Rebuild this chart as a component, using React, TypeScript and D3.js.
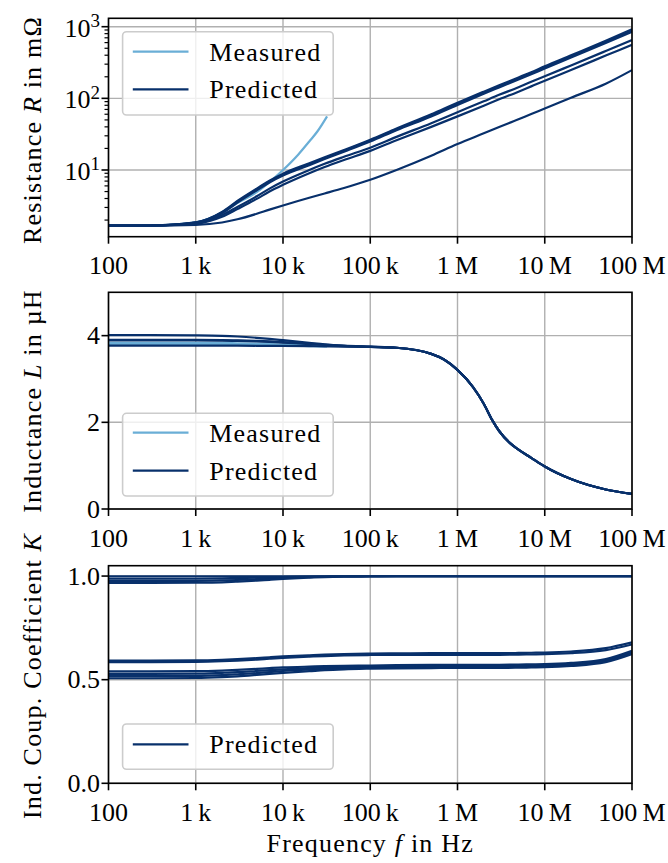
import { useEffect, useRef } from 'react';
import * as d3 from 'd3';

// frequency grid (Hz) for R and K curves
const freq = [1e2, 3e2, 1e3, 2e3, 3e3, 5e3, 7e3, 1e4, 2e4, 3e4, 5e4, 1e5, 2e5, 5e5, 1e6, 2e6, 3e6, 5e6, 7e6, 1e7, 2e7, 5e7, 1e8];
// denser grid for the inductance roll-off
const freqL = [1e2, 3e2, 1e3, 2e3, 3e3, 5e3, 7e3, 1e4, 2e4, 3e4, 5e4, 1e5, 2e5, 5e5, 7e5, 1e6, 1.5e6, 2e6, 2.5e6, 3e6, 4e6, 5e6, 7e6, 1e7, 2e7, 5e7, 1e8];
// measurement only reaches ~30 kHz
const freqMeas = [1e2, 3e2, 1e3, 2e3, 3e3, 5e3, 7e3, 1e4, 1.5e4, 2e4, 2.5e4, 3.2e4];

// Resistance in mOhm
const rPred = [
  [1.67, 1.68, 1.86, 2.6, 3.7, 5.5, 7.1, 8.9, 12.4, 15.0, 19.0, 26.5, 38, 60, 87, 124, 152, 196, 232, 280, 398, 635, 918],
  [1.67, 1.68, 1.85, 2.55, 3.6, 5.35, 6.9, 8.6, 12.0, 14.6, 18.5, 25.8, 37, 58, 84, 120, 147, 189, 224, 270, 384, 612, 880],
  [1.67, 1.68, 1.84, 2.5, 3.5, 5.2, 6.7, 8.35, 11.7, 14.2, 18.0, 25.0, 36, 56, 81, 116, 142, 183, 217, 261, 371, 592, 851],
  [1.67, 1.68, 1.80, 2.35, 3.05, 4.3, 5.5, 6.9, 10.0, 12.2, 15.3, 20.5, 29, 45, 64, 91, 112, 143, 170, 203, 288, 458, 651],
  [1.67, 1.68, 1.78, 2.22, 2.85, 3.95, 5.0, 6.2, 9.0, 11.0, 13.8, 18.5, 26, 40, 56, 79, 97, 124, 147, 176, 249, 395, 560],
  [1.67, 1.67, 1.71, 1.85, 2.05, 2.45, 2.8, 3.2, 4.1, 4.7, 5.6, 7.3, 10, 15.8, 23, 32.5, 39.8, 51, 60.5, 72, 102, 160, 248],
];
const rMeas = [
  [1.67, 1.68, 1.86, 2.55, 3.45, 4.9, 6.8, 10.0, 16.5, 25, 35, 56],
];

// Inductance in uH (low-frequency part per winding, common roll-off above 100 kHz)
const lHead = [
  [4.01, 4.01, 4.005, 3.995, 3.98, 3.95, 3.925, 3.895, 3.835, 3.80, 3.77, 3.745],
  [3.905, 3.905, 3.903, 3.898, 3.892, 3.88, 3.868, 3.852, 3.815, 3.79, 3.765, 3.743],
  [3.89, 3.89, 3.888, 3.883, 3.877, 3.866, 3.855, 3.84, 3.805, 3.785, 3.76, 3.742],
  [3.77, 3.77, 3.77, 3.769, 3.768, 3.766, 3.764, 3.762, 3.757, 3.753, 3.748, 3.742],
];
const lTail = [3.72, 3.58, 3.45, 3.21, 2.82, 2.43, 2.05, 1.80, 1.52, 1.37, 1.18, 0.98, 0.69, 0.45, 0.35];
const lMeas = [
  [3.835, 3.835, 3.833, 3.83, 3.825, 3.815, 3.805, 3.795, 3.785, 3.775, 3.768, 3.762],
  [3.795, 3.795, 3.794, 3.79, 3.787, 3.78, 3.775, 3.77, 3.763, 3.758, 3.754, 3.75],
];

// inductive coupling coefficient
const kPred = [
  [0.999, 0.999, 0.999, 0.999, 0.999, 0.999, 0.999, 0.999, 0.999, 0.999, 0.999, 0.999, 0.999, 0.999, 0.999, 0.999, 0.999, 0.999, 0.999, 0.999, 0.999, 0.999, 0.999],
  [0.988, 0.988, 0.988, 0.989, 0.990, 0.992, 0.994, 0.995, 0.997, 0.998, 0.999, 0.999, 0.999, 0.999, 0.999, 0.999, 0.999, 0.999, 0.999, 0.999, 0.999, 0.999, 0.999],
  [0.977, 0.977, 0.977, 0.979, 0.981, 0.985, 0.988, 0.991, 0.995, 0.997, 0.998, 0.999, 0.999, 0.999, 0.999, 0.999, 0.999, 0.999, 0.999, 0.999, 0.999, 0.999, 0.999],
  [0.967, 0.967, 0.968, 0.970, 0.973, 0.978, 0.982, 0.986, 0.992, 0.995, 0.997, 0.998, 0.999, 0.999, 0.999, 0.999, 0.999, 0.999, 0.999, 0.999, 0.999, 0.999, 0.999],
  [0.592, 0.592, 0.593, 0.596, 0.599, 0.604, 0.608, 0.612, 0.618, 0.621, 0.624, 0.626, 0.627, 0.628, 0.628, 0.628, 0.628, 0.629, 0.630, 0.631, 0.636, 0.652, 0.680],
  [0.585, 0.585, 0.586, 0.589, 0.592, 0.597, 0.601, 0.605, 0.611, 0.614, 0.617, 0.619, 0.620, 0.620, 0.620, 0.620, 0.620, 0.621, 0.622, 0.623, 0.628, 0.643, 0.670],
  [0.540, 0.540, 0.541, 0.544, 0.547, 0.552, 0.556, 0.559, 0.563, 0.565, 0.567, 0.568, 0.570, 0.571, 0.572, 0.572, 0.572, 0.573, 0.574, 0.575, 0.581, 0.600, 0.640],
  [0.528, 0.528, 0.529, 0.533, 0.536, 0.542, 0.546, 0.550, 0.556, 0.559, 0.561, 0.563, 0.565, 0.566, 0.567, 0.567, 0.567, 0.568, 0.569, 0.570, 0.576, 0.594, 0.634],
  [0.517, 0.517, 0.518, 0.522, 0.526, 0.532, 0.537, 0.542, 0.549, 0.553, 0.556, 0.558, 0.560, 0.561, 0.562, 0.562, 0.562, 0.563, 0.564, 0.565, 0.571, 0.589, 0.628],
  [0.507, 0.507, 0.508, 0.512, 0.516, 0.523, 0.528, 0.533, 0.541, 0.546, 0.550, 0.553, 0.555, 0.556, 0.557, 0.557, 0.557, 0.558, 0.559, 0.560, 0.566, 0.584, 0.623],
];

const xTicks = [1e2, 1e3, 1e4, 1e5, 1e6, 1e7, 1e8];
const xTickLabels = ['100', '1\u2009k', '10\u2009k', '100\u2009k', '1\u2009M', '10\u2009M', '100\u2009M'];
const rTicks = [10, 100, 1000];
const rTickExp = ['1', '2', '3'];
const rMinor = [2, 3, 4, 5, 6, 7, 8, 9, 20, 30, 40, 50, 60, 70, 80, 90, 200, 300, 400, 500, 600, 700, 800, 900];
const lTicks = [0, 2, 4];
const kTicks = [0, 0.5, 1.0];

const MEAS = '#6aaed6';
const PRED = '#08306b';
const GRID = '#b0b0b0';
const FONT = "'Liberation Serif', 'DejaVu Serif', serif";
const FS = 26;
const WORD_SPACING = '1.2px';

export default function App() {
  const svgRef = useRef<SVGSVGElement>(null);

  useEffect(() => {
    const el = svgRef.current;
    if (!el) return;
    const svg = d3.select(el);
    svg.selectAll('*').remove();

    const left = 108.5, right = 632;
    const x = d3.scaleLog().domain([1e2, 1e8]).range([left, right]);

    const panels = [
      {
        id: 'r', top: 18.3, bottom: 236.7,
        y: d3.scaleLog().domain([1.172, 1310]),
        pred: rPred.map(v => v.map((d, i) => [freq[i], d])),
        meas: rMeas.map(v => v.map((d, i) => [freqMeas[i], d])),
        legend: { top: 31.7, bottom: 115, rows: [[51.7, 'Measured', MEAS], [89.3, 'Predicted', PRED]] },
        label: ['Resistance ', 'R', ' in m\u03A9'], labelY: 130,
      },
      {
        id: 'l', top: 292.3, bottom: 509,
        y: d3.scaleLinear().domain([0, 5]),
        pred: lHead.map(v => v.concat(lTail).map((d, i) => [freqL[i], d])),
        meas: lMeas.map(v => v.map((d, i) => [freqMeas[i], d])),
        legend: { top: 413.3, bottom: 496, rows: [[432.7, 'Measured', MEAS], [470.7, 'Predicted', PRED]] },
        label: ['Inductance ', 'L', ' in \u00B5H'], labelY: 401,
      },
      {
        id: 'k', top: 565.7, bottom: 783.3,
        y: d3.scaleLinear().domain([0, 1.05]),
        pred: kPred.map(v => v.map((d, i) => [freq[i], d])),
        meas: [] as number[][][],
        legend: { top: 724, bottom: 769.3, rows: [[744.3, 'Predicted', PRED]] },
        label: ['Ind. Coup. Coefficient ', 'K', ''], labelY: 676,
      },
    ];

    const txt = (g: any) => g.style('font-family', FONT).style('font-size', `${FS}px`).attr('fill', '#000');
    const words = (g: any) => g.call(txt).style('letter-spacing', WORD_SPACING);

    panels.forEach(p => {
      const y = (p.y as any).range([p.bottom, p.top]);
      const g = svg.append('g');

      g.append('clipPath').attr('id', `clip-${p.id}`)
        .append('rect').attr('x', left).attr('y', p.top)
        .attr('width', right - left).attr('height', p.bottom - p.top);

      // grid
      const yMajor = p.id === 'r' ? rTicks : p.id === 'l' ? lTicks : kTicks;
      g.selectAll('.vgrid').data(xTicks).enter().append('line')
        .attr('x1', d => x(d)).attr('x2', d => x(d))
        .attr('y1', p.top).attr('y2', p.bottom)
        .attr('stroke', GRID).attr('stroke-width', 1.4);
      g.selectAll('.hgrid').data(yMajor).enter().append('line')
        .attr('x1', left).attr('x2', right)
        .attr('y1', d => y(d)).attr('y2', d => y(d))
        .attr('stroke', GRID).attr('stroke-width', 1.4);

      const line = d3.line<number[]>()
        .x(d => x(d[0])).y(d => y(d[1]))
        .curve(d3.curveMonotoneX);

      const lines = g.append('g').attr('clip-path', `url(#clip-${p.id})`);
      p.meas.forEach(s => {
        lines.append('path').datum(s).attr('d', line as any)
          .attr('fill', 'none').attr('stroke', MEAS).attr('stroke-width', 2.2);
      });
      p.pred.forEach(s => {
        lines.append('path').datum(s).attr('d', line as any)
          .attr('fill', 'none').attr('stroke', PRED).attr('stroke-width', 2.2);
      });

      // x ticks
      g.selectAll('.xt').data(xTicks).enter().append('line')
        .attr('x1', d => x(d)).attr('x2', d => x(d))
        .attr('y1', p.bottom).attr('y2', p.bottom + 7)
        .attr('stroke', '#000').attr('stroke-width', 1.6);
      g.selectAll('.xl').data(xTicks).enter().append('text')
        .call(txt)
        .attr('x', d => x(d)).attr('y', p.bottom + 37.5)
        .attr('text-anchor', 'middle')
        .text((d, i) => xTickLabels[i]);

      // y ticks
      g.selectAll('.yt').data(yMajor).enter().append('line')
        .attr('x1', left - 7).attr('x2', left)
        .attr('y1', d => y(d)).attr('y2', d => y(d))
        .attr('stroke', '#000').attr('stroke-width', 1.6);
      if (p.id === 'r') {
        g.selectAll('.ym').data(rMinor).enter().append('line')
          .attr('x1', left - 4).attr('x2', left)
          .attr('y1', d => y(d)).attr('y2', d => y(d))
          .attr('stroke', '#000').attr('stroke-width', 1.2);
        rTicks.forEach((d, i) => {
          const t = g.append('text').call(txt)
            .attr('x', 100).attr('y', y(d) + 10).attr('text-anchor', 'end');
          t.append('tspan').text('10');
          t.append('tspan').attr('dy', -9.5).style('font-size', '19px').text(rTickExp[i]);
        });
      } else {
        g.selectAll('.yl').data(yMajor).enter().append('text')
          .call(txt)
          .attr('x', 100).attr('y', d => y(d) + 8.8)
          .attr('text-anchor', 'end')
          .text(d => p.id === 'l' ? d3.format('d')(d) : d3.format('.1f')(d));
      }

      // spines
      g.append('rect').attr('x', left).attr('y', p.top)
        .attr('width', right - left).attr('height', p.bottom - p.top)
        .attr('fill', 'none').attr('stroke', '#000').attr('stroke-width', 1.6);

      // legend
      const lg = g.append('g');
      lg.append('rect')
        .attr('x', 122.6).attr('y', p.legend.top)
        .attr('width', 210.6).attr('height', p.legend.bottom - p.legend.top)
        .attr('rx', 4).attr('ry', 4)
        .attr('fill', 'rgba(255,255,255,0.8)')
        .attr('stroke', '#cccccc').attr('stroke-width', 1.6);
      p.legend.rows.forEach(([ry, name, color]) => {
        lg.append('line').attr('x1', 132.8).attr('x2', 188.5)
          .attr('y1', ry as number).attr('y2', ry as number)
          .attr('stroke', color as string).attr('stroke-width', 2.2);
        lg.append('text').call(words)
          .attr('x', 209.3).attr('y', (ry as number) + 9)
          .text(name as string);
      });

      // y label
      const yl = g.append('text').call(words)
        .attr('transform', `translate(41,${p.labelY}) rotate(-90)`)
        .attr('text-anchor', 'middle');
      yl.append('tspan').text(p.label[0]);
      yl.append('tspan').style('font-style', 'italic').text(p.label[1]);
      yl.append('tspan').text(p.label[2]);
    });

    // x label
    const xl = svg.append('text').call(words)
      .attr('x', (left + right) / 2).attr('y', 852)
      .attr('text-anchor', 'middle');
    xl.append('tspan').text('Frequency ');
    xl.append('tspan').style('font-style', 'italic').text('f');
    xl.append('tspan').text(' in Hz');
  }, []);

  return (
    <svg
      ref={svgRef}
      width={668}
      height={863}
      style={{ position: 'absolute', left: 0, top: 0, background: '#fff' }}
    />
  );
}
